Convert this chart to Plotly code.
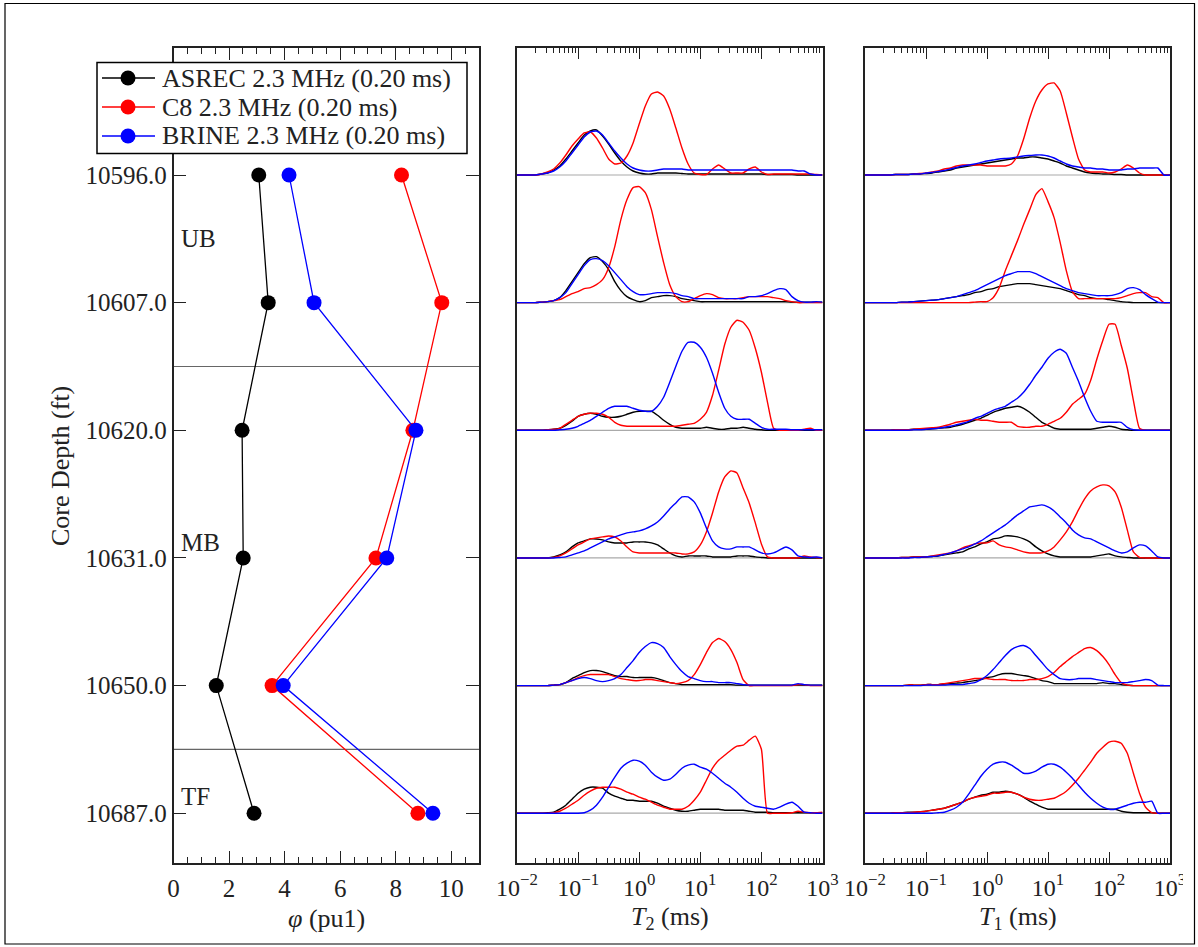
import plotly.graph_objects as go

W, H = 1198, 947
FONT = "Liberation Serif"
INK = "#222222"

# ---------------- data ----------------
DEPTHS = [10596.0, 10607.0, 10620.0, 10631.0, 10650.0, 10687.0]
DEPTH_LABELS = [f"{d:.1f}" for d in DEPTHS]
SERIES_NAMES = ["ASREC 2.3 MHz (0.20 ms)", "C8 2.3 MHz (0.20 ms)", "BRINE 2.3 MHz (0.20 ms)"]
SERIES_COLORS = ["#000000", "#ff0000", "#0000ff"]

PHI_ASREC = [3.07, 3.41, 2.47, 2.51, 1.54, 2.90]
PHI_C8 = [8.21, 9.66, 8.62, 7.29, 3.55, 8.80]
PHI_BRINE = [4.16, 5.06, 8.73, 7.68, 3.95, 9.34]

ZONE_NAMES = ["UB", "MB", "TF"]
ZONE_BOUNDARIES = [1.5, 4.5]          # between depth rows

PHI_TICKS = [0, 2, 4, 6, 8, 10]
LOG_TICK_EXP = [-2, -1, 0, 1, 2, 3]

# relaxation-time sampling grid, log10(ms)
LOG_T = [-2.0, -1.9, -1.8, -1.7, -1.6, -1.5, -1.4, -1.3, -1.2, -1.1,
         -1.0, -0.9, -0.8, -0.7, -0.6, -0.5, -0.4, -0.3, -0.2, -0.1,
         0.0, 0.1, 0.2, 0.3, 0.4, 0.5, 0.6, 0.7, 0.8, 0.9,
         1.0, 1.1, 1.2, 1.3, 1.4, 1.5, 1.6, 1.7, 1.8, 1.9,
         2.0, 2.1, 2.2, 2.3, 2.4, 2.5, 2.6, 2.7, 2.8, 2.9,
         3.0]

# amplitudes (a.u.), one row per depth, sampled on LOG_T
T2_ASREC = [
    [0, 0, 0, 0, 1, 2, 5, 9, 16, 24, 32, 40, 44, 45, 39, 31, 22, 14, 8, 4,
     2, 1, 1, 2, 2, 2, 2, 1.5, 1, 1, 1, 1, 1, 1, 1, 1, 1, 1, 1, 1,
     1, 0.5, 0.5, 0.5, 0.5, 0.5, 0, 0, 0, 0, 0],
    [0, 0, 0, 0, 0.5, 1, 2, 5, 12, 21, 30, 39, 45, 46, 41, 33, 21, 12, 6, 3,
     1, 2, 5, 6, 7, 7, 6, 4, 3, 2, 1, 1, 1, 1, 1, 1, 1, 1, 1, 1,
     1, 1, 1, 1, 1, 0.5, 0.5, 0.5, 0.5, 0.5, 0.5],
    [0, 0, 0, 0, 0, 0.5, 1, 2, 5, 9, 14, 16, 17, 16, 14, 13, 13, 14, 16, 18,
     19, 19, 19, 15, 10, 6, 3, 2, 2, 2, 2, 3, 2, 1, 1, 2, 2, 3, 2, 1,
     0.5, 0, 0, 0, 0, 0, 0, 0, 0, 0, 0],
    [0, 0, 0, 0, 0, 0, 1, 3, 6, 11, 15, 17, 19, 19, 18, 16, 15, 15, 15, 16,
     16, 16, 15, 13, 9, 5, 2, 1, 2, 2, 2, 2, 1, 1, 1, 1, 2, 2, 2, 1,
     0.5, 0, 0, 0, 0, 0, 0, 0, 0, 0, 0],
    [0, 0, 0, 0, 0, 0, 0.5, 1, 3, 7, 10, 13, 15, 15, 14, 12, 10, 9, 9, 8,
     8, 8, 8, 7, 5, 3, 2, 1, 1, 1, 1, 1, 1, 1, 1, 1, 0.5, 0.5, 0.5, 0.5,
     0.5, 0.5, 0.5, 0.5, 0.5, 0.5, 0.5, 0.5, 0.5, 0.5, 0.5],
    [0, 0, 0, 0, 0, 0.5, 1, 4, 8, 14, 20, 24, 26, 26, 25, 20, 17, 15, 13, 13,
     12, 12, 12, 10, 7, 5, 3, 2, 2, 3, 4, 4, 4, 4, 3, 3, 3, 3, 2, 1,
     1, 1, 0.5, 0.5, 0.5, 0.5, 0.5, 0.5, 0.5, 0.5, 0.5],
]
T2_C8 = [
    [0, 0, 0, 0, 1, 3, 6, 12, 20, 29, 36, 42, 43, 37, 27, 16, 11, 12, 19, 32,
     51, 69, 81, 83, 79, 66, 47, 27, 11, 2, 0.5, 0.5, 6, 10, 6, 2, 2, 2, 6, 8,
     3, 0.5, 1, 1, 1, 1, 1, 1, 1, 0.5, 0],
    [0, 0, 0, 0, 0.5, 1, 2, 3, 6, 9, 11, 14, 15, 18, 23, 35, 56, 83, 103, 115,
     116, 110, 93, 66, 40, 18, 6, 1, 1, 4, 7, 9, 8, 5, 4, 4, 4, 5, 6, 6,
     6, 6, 5, 4, 2, 1, 0, 0, 0, 0, 0],
    [0, 0, 0, 0, 0, 0.5, 1, 2, 6, 10, 14, 16, 17, 17, 16, 13, 8, 5, 4, 4,
     4, 4, 4, 4, 4, 4, 4, 5, 6, 7, 11, 18, 35, 60, 86, 103, 110, 108, 100, 82,
     58, 28, 2, 0, 0, 0, 0, 1, 2, 0, 0],
    [0, 0, 0, 0, 0, 0, 0.5, 2, 5, 9, 13, 16, 19, 20, 21, 22, 21, 17, 11, 6,
     5, 5, 5, 5, 5, 5, 5, 4, 4, 6, 13, 26, 45, 66, 81, 87, 85, 70, 55, 35,
     14, 1, 0, 0, 0, 0, 0, 2, 1, 0.5, 0],
    [0, 0, 0, 0, 0, 0, 0.5, 1, 3, 5, 8, 10, 11, 11, 11, 11, 9, 7, 6, 5,
     5, 6, 6, 5, 4, 3, 2, 3, 5, 11, 21, 33, 43, 47, 44, 36, 23, 6, 0, 0,
     0, 0, 0, 0, 0, 0, 1, 1, 0, 0, 0],
    [0, 0, 0, 0, 0, 0, 0.5, 2, 5, 9, 13, 18, 22, 25, 26, 26, 26, 24, 21, 19,
     16, 14, 11, 8, 6, 4, 4, 4, 7, 13, 21, 33, 45, 53, 58, 63, 67, 68, 73, 77,
     64, 0, 0, 0, 0, 0.5, 2, 1, 0.5, 0.5, 1],
]
T2_BRINE = [
    [0, 0, 0, 0, 1, 2, 4, 8, 14, 22, 30, 38, 43, 44, 40, 32, 24, 17, 11, 7,
     5, 4, 4, 5, 6, 6, 6, 6, 5, 5, 5, 5, 5, 5, 5, 5, 5, 5, 5, 5,
     5, 5, 5, 5, 5, 5, 4, 4, 1, 0, 0],
    [0, 0, 0, 0, 0.5, 1, 2, 5, 10, 19, 28, 37, 43, 44, 42, 37, 30, 23, 16, 11,
     8, 8, 9, 10, 10, 10, 9, 7, 6, 4, 4, 4, 4, 4, 4, 4, 4, 4, 6, 6,
     7, 9, 12, 14, 13, 6, 2, 0.5, 0.5, 1, 0.5],
    [0, 0, 0, 0, 0, 0, 0, 0.5, 1, 2, 4, 7, 10, 14, 18, 22, 24, 24, 24, 22,
     20, 19, 19, 24, 33, 48, 64, 79, 88, 88, 83, 73, 57, 38, 22, 14, 11, 11, 11, 7,
     3, 1, 1, 1, 1, 0.5, 0.5, 0.5, 0.5, 0.5, 0.5],
    [0, 0, 0, 0, 0, 0, 0, 0.5, 1, 3, 5, 7, 10, 13, 16, 19, 21, 23, 25, 26,
     27, 29, 32, 36, 42, 49, 55, 61, 61, 56, 45, 30, 17, 11, 9, 9, 11, 11, 11, 8,
     5, 4, 5, 8, 11, 8, 2, 1, 0.5, 1, 0],
    [0, 0, 0, 0, 0, 0, 0.5, 1, 3, 5, 7, 8, 7, 5, 4, 5, 7, 11, 18, 25,
     33, 39, 43, 42, 38, 29, 21, 14, 9, 7, 5, 4, 4, 3, 3, 3, 2, 1, 0.5, 0.5,
     0.5, 0.5, 0.5, 0.5, 0.5, 0.5, 2, 1, 0.5, 0.5, 0.5],
    [0, 0, 0, 0, 0, 0, 0, 0, 0, 0, 0, 0.5, 3, 8, 16, 26, 36, 45, 50, 53,
     52, 48, 41, 36, 33, 34, 39, 45, 48, 49, 46, 44, 40, 35, 30, 26, 21, 15, 10, 7,
     6, 5, 4, 6, 9, 11, 7, 1, 0.5, 0, 0],
]
T1_ASREC = [
    [0, 0, 0, 0, 0, 0.5, 0.5, 0.5, 1, 1, 1.5, 2, 3, 4, 5, 7, 8, 9, 10, 11,
     12, 13, 14, 15, 16, 17, 17, 18, 18, 17, 16, 14, 12, 9, 7, 5, 3, 2, 1.5, 1,
     1, 0.5, 0.5, 0, 0, 0, 0, 0, 0, 0, 0],
    [0, 0, 0, 0, 0, 0, 0.5, 0.5, 1, 1.5, 2, 2.5, 3, 4, 5, 6, 7, 8, 10, 11,
     13, 14, 16, 17, 18, 19, 19, 19, 18, 17, 16, 15, 14, 12, 10, 8, 7, 5, 4, 4,
     3, 2, 1, 0.5, 0, 0, 0, 0, 0, 0, 0],
    [0, 0, 0, 0, 0, 0.5, 0.5, 0.5, 1, 1, 1, 1.5, 2, 2.5, 3, 4.5, 6, 8, 10, 12,
     15, 18, 20, 22, 23, 24, 22, 18, 13, 8, 5, 2, 1, 1, 1, 1, 1, 1, 2, 3,
     4, 3, 1, 0.5, 0, 0, 0, 0, 0, 0, 0],
    [0, 0, 0, 0, 0, 0, 0.5, 0.5, 1, 1, 1, 1.5, 2, 3, 4, 5, 6, 9, 11, 14,
     16, 19, 20, 22, 22, 21, 19, 16, 11, 7, 4, 2, 1, 1, 1, 1, 1, 1, 2, 3,
     4, 2, 1, 0.5, 0, 0, 0, 0, 0, 0, 0],
    [0, 0, 0, 0, 0, 0, 0, 0.5, 0.5, 0.5, 1, 1, 1, 1.5, 2, 2.5, 3, 4, 5, 6,
     8, 9, 11, 12, 12, 11, 10, 9, 7, 5, 4, 2, 2, 2, 2, 2, 2, 2, 2, 3,
     2, 2, 1, 0.5, 0, 0, 0, 0, 0, 0, 0],
    [0, 0, 0, 0, 0, 0.5, 0.5, 1, 1, 1.5, 2, 3, 4, 5, 7, 9, 11, 14, 16, 18,
     19, 21, 21, 22, 21, 19, 16, 12, 9, 6, 4, 4, 4, 4, 4, 4, 4, 4, 4, 4,
     4, 4, 2, 1, 0.5, 0.5, 0.5, 0.5, 0, 0, 0],
]
T1_C8 = [
    [0, 0, 0, 0, 0, 0.5, 0.5, 0.5, 1, 1.5, 2, 3, 4, 6, 7, 9, 10, 10, 10, 10,
     9, 9, 9, 9, 11, 19, 36, 57, 74, 85, 91, 92, 84, 62, 38, 16, 5, 3, 3, 3,
     2, 3, 6, 10, 7, 2, 0, 0, 0, 0, 0],
    [0, 0, 0, 0, 0, 0, 0, 0, 0, 0, 0, 0, 0, 0, 0, 0, 0, 0, 0.5, 1,
     1, 5, 15, 32, 47, 62, 78, 93, 108, 114, 101, 85, 60, 32, 11, 4, 4, 4, 4, 4,
     4, 4, 5, 7, 9, 10, 10, 6, 5, 0, 0],
    [0, 0, 0, 0, 0, 0.5, 0.5, 0.5, 1, 1.5, 2, 2.5, 3, 4.5, 6, 8, 9, 10, 11, 10,
     10, 9, 8, 8, 8, 4, 3, 3, 4, 4, 6, 9, 12, 18, 26, 31, 36, 50, 71, 90,
     106, 106, 85, 62, 30, 2, 0, 0, 0, 0, 0],
    [0, 0, 0, 0, 0, 0, 0.5, 0.5, 1, 1, 1, 2, 3, 4, 5, 7, 10, 12, 14, 15,
     15, 17, 13, 11, 10, 8, 6, 5, 5, 5, 7, 11, 18, 26, 36, 48, 59, 67, 71, 73,
     72, 66, 51, 28, 6, 0.5, 0, 0, 0, 0, 0],
    [0, 0, 0, 0, 0, 0, 0, 0.5, 0.5, 0.5, 1, 1, 1, 2, 3, 4, 5, 6, 7, 7,
     7, 6, 6, 6, 5, 5, 5, 6, 6, 7, 9, 13, 19, 24, 29, 33, 37, 38, 35, 29,
     21, 11, 3, 0.5, 0, 0, 0, 0, 0, 0, 0],
    [0, 0, 0, 0, 0, 0.5, 0.5, 0.5, 1, 1.5, 2, 3, 4, 5, 7, 9, 11, 14, 16, 17,
     18, 20, 20, 21, 21, 19, 16, 14, 13, 13, 14, 15, 18, 22, 28, 35, 43, 51, 60, 66,
     71, 72, 70, 60, 40, 20, 6, 0.5, 0, 0, 0],
]
T1_BRINE = [
    [0, 0, 0, 0, 0, 0.5, 0.5, 0.5, 1, 1, 2, 2.5, 3.5, 4.5, 6, 7.5, 9, 10, 11, 12.5,
     14, 15, 16, 16.5, 17, 18, 19, 19.5, 20, 20, 19, 17, 14, 11, 9, 8, 7, 7, 6, 6,
     5, 5, 5, 6, 6, 7, 7, 7, 7, 0, 0],
    [0, 0, 0, 0, 0, 0, 0.5, 0.5, 1, 1.5, 2, 2.5, 3, 4, 5, 6, 8, 10, 12, 15,
     18, 21, 24, 27, 29, 31, 31, 31, 29, 26, 23, 20, 17, 14, 12, 10, 9, 8, 7, 7,
     7, 8, 10, 14, 15, 13, 8, 4, 0.5, 0, 0],
    [0, 0, 0, 0, 0, 0, 0, 0, 0.5, 0.5, 1, 1.5, 2, 3, 4, 5.5, 7, 9, 12, 14,
     17, 20, 22, 24, 28, 32, 38, 46, 55, 63, 72, 78, 81, 77, 63, 49, 33, 19, 9, 8,
     8, 8, 8, 3, 0.5, 0, 0, 0, 0, 0, 0],
    [0, 0, 0, 0, 0, 0, 0, 0, 0.5, 0.5, 1, 1.5, 2, 3.5, 5, 7, 9, 11, 14, 17,
     21, 25, 29, 33, 38, 43, 47, 51, 52, 53, 51, 47, 41, 35, 28, 23, 20, 19, 16, 13,
     10, 7, 5, 6, 10, 13, 12, 7, 1, 0, 0],
    [0, 0, 0, 0, 0, 0, 0, 0, 0, 0, 0.5, 0.5, 0.5, 0.5, 1, 1, 1, 2, 3, 6,
     10, 16, 23, 30, 36, 39, 40, 37, 30, 23, 16, 11, 7, 6, 6, 7, 7, 7, 6, 5,
     4, 3, 3, 3, 4, 5, 6, 5, 0.5, 0, 0],
    [0, 0, 0, 0, 0, 0, 0, 0, 0, 0, 0, 0, 0.5, 1, 3, 6, 11, 19, 28, 37,
     44, 49, 51, 51, 48, 44, 40, 40, 42, 46, 49, 49, 46, 41, 35, 28, 21, 15, 10, 6,
     4, 4, 6, 8, 10, 11, 11, 12, 0, 0, 0],
]

for block in (T2_ASREC, T2_C8, T2_BRINE, T1_ASREC, T1_C8, T1_BRINE):
    assert len(block) == len(DEPTHS)
    for row in block:
        assert len(row) == len(LOG_T), len(row)

# ---------------- styling constants ----------------
AMP_TO_ROW = 1 / 127.6          # a.u. -> depth-row units
Y_RANGE = [5.39, -0.995]
TICK_SIZE = 25
LOG_TICK_SIZE = 24
TITLE_SIZE = 26
LEGEND_SIZE = 26
MARKER_PX = 15


def fx(p):
    return p / W


def fy(p):
    return 1 - p / H


fig = go.Figure()

T_VALUES = [10 ** v for v in LOG_T]
T2_SETS = [T2_ASREC, T2_C8, T2_BRINE]
T1_SETS = [T1_ASREC, T1_C8, T1_BRINE]
PHI_SETS = [PHI_ASREC, PHI_C8, PHI_BRINE]
ROWS = list(range(len(DEPTHS)))

# left panel: porosity
for name, phi, col in zip(SERIES_NAMES, PHI_SETS, SERIES_COLORS):
    fig.add_trace(go.Scatter(
        x=phi, y=ROWS, mode="lines+markers", name=name,
        line=dict(color=col, width=1.3),
        marker=dict(color=col, size=MARKER_PX, line=dict(width=0)),
        xaxis="x", yaxis="y", showlegend=False))

# distributions
for sets, xa, ya in ((T2_SETS, "x2", "y2"), (T1_SETS, "x3", "y3")):
    for r in ROWS:
        for s, col in zip(sets, SERIES_COLORS):
            amps = s[r]
            fig.add_trace(go.Scatter(
                x=T_VALUES, y=[r - a * AMP_TO_ROW for a in amps],
                mode="lines", line=dict(color=col, width=1.4, shape="spline", smoothing=0.5),
                xaxis=xa, yaxis=ya, showlegend=False, hoverinfo="skip"))

axis_common = dict(showline=True, linecolor=INK, linewidth=1.5, mirror="allticks",
                   showgrid=False, zeroline=False, ticks="inside", tickcolor=INK,
                   tickwidth=1.2)

minor_log = [m * 10.0 ** e for e in LOG_TICK_EXP[:-1] for m in range(2, 10)]
log_ticktext = [f"10<sup>{e if e >= 0 else '−' + str(-e)}</sup>" for e in LOG_TICK_EXP]
log_tickvals = [10.0 ** e for e in LOG_TICK_EXP]

log_axis = dict(type="log", range=[-2, 3], tickmode="array", tickvals=log_tickvals,
                ticktext=log_ticktext, ticklen=11, ticklabelstandoff=2,
                tickfont=dict(family=FONT, size=LOG_TICK_SIZE, color=INK),
                minor=dict(tickmode="array", tickvals=minor_log, ticks="inside",
                           ticklen=5, tickcolor=INK, tickwidth=1.0),
                **axis_common)
frame_y = dict(domain=[fy(863), fy(48)], range=Y_RANGE, showline=True, linecolor=INK,
               linewidth=1.5, mirror=True, showgrid=False, zeroline=False, ticks="",
               showticklabels=False)

fig.update_layout(
    width=W, height=H, margin=dict(l=0, r=0, t=0, b=0, autoexpand=False),
    paper_bgcolor="white", plot_bgcolor="white",
    font=dict(family=FONT, size=TICK_SIZE, color=INK),
    xaxis=dict(domain=[fx(173.5), fx(479)], range=[0, 11], tickmode="array",
               tickvals=PHI_TICKS, ticklen=12, ticklabelstandoff=2,
               tickfont=dict(family=FONT, size=TICK_SIZE, color=INK),
               minor=dict(dtick=0.5, ticks="inside", ticklen=6, tickcolor=INK, tickwidth=1.2),
               anchor="y", **axis_common),
    yaxis=dict(domain=[fy(863), fy(48)], range=Y_RANGE, tickmode="array",
               tickvals=ROWS, ticktext=DEPTH_LABELS, ticklen=13, anchor="x",
               tickfont=dict(family=FONT, size=TICK_SIZE, color=INK),
               **axis_common),
    xaxis2=dict(domain=[fx(517), fx(822.5)], anchor="y2", **log_axis),
    yaxis2=dict(anchor="x2", **frame_y),
    xaxis3=dict(domain=[fx(865), fx(1170)], anchor="y3", **log_axis),
    yaxis3=dict(anchor="x3", **frame_y),
    showlegend=False,
)

shapes = []
# baselines in distribution panels
for xa, ya in (("x2", "y2"), ("x3", "y3")):
    for r in ROWS:
        shapes.append(dict(type="line", xref=f"{xa} domain", yref=ya, x0=0, x1=1,
                           y0=r, y1=r, line=dict(color="#aaaaaa", width=1.2), layer="below"))
# zone boundaries in porosity panel
for b in ZONE_BOUNDARIES:
    shapes.append(dict(type="line", xref="x domain", yref="y", x0=0, x1=1, y0=b, y1=b,
                       line=dict(color="#666666", width=1.1), layer="below"))
# clip of the overflowing last tick label and outer frame
shapes.append(dict(type="rect", xref="paper", yref="paper", x0=fx(1183), x1=fx(1198),
                   y0=fy(905), y1=fy(866), fillcolor="white", line=dict(width=0), layer="above"))
shapes.append(dict(type="rect", xref="paper", yref="paper", x0=fx(5), x1=fx(1194.5),
                   y0=fy(944), y1=fy(3.5), line=dict(color="#000000", width=1.2),
                   fillcolor="rgba(0,0,0,0)", layer="above"))

# legend box (drawn by hand so that row spacing matches)
LEG_BOX = (97, 62.5, 467, 153.5)
LEG_ROWS_Y = [78, 107, 136]
LEG_LINE_X = (102, 155)
LEG_MARK_X = 128
LEG_TEXT_X = 160
shapes.append(dict(type="rect", xref="paper", yref="paper",
                   x0=fx(LEG_BOX[0]), x1=fx(LEG_BOX[2]), y0=fy(LEG_BOX[3]), y1=fy(LEG_BOX[1]),
                   fillcolor="white", line=dict(color="#000000", width=1.5), layer="above"))
r_m = MARKER_PX / 2
for col, yy in zip(SERIES_COLORS, LEG_ROWS_Y):
    shapes.append(dict(type="line", xref="paper", yref="paper",
                       x0=fx(LEG_LINE_X[0]), x1=fx(LEG_LINE_X[1]), y0=fy(yy), y1=fy(yy),
                       line=dict(color=col, width=1.3), layer="above"))
    shapes.append(dict(type="circle", xref="paper", yref="paper",
                       x0=fx(LEG_MARK_X - r_m), x1=fx(LEG_MARK_X + r_m),
                       y0=fy(yy + r_m), y1=fy(yy - r_m),
                       fillcolor=col, line=dict(width=0), layer="above"))
fig.update_layout(shapes=shapes)

ann = []
for name, yy in zip(SERIES_NAMES, LEG_ROWS_Y):
    ann.append(dict(x=fx(LEG_TEXT_X), y=fy(yy), xref="paper", yref="paper", text=name,
                    showarrow=False, xanchor="left", yanchor="middle",
                    font=dict(family=FONT, size=LEGEND_SIZE, color=INK)))
for name, ypos in zip(ZONE_NAMES, [0.5, 2.88, 4.87]):
    ann.append(dict(x=0.2, y=ypos, xref="x", yref="y", text=name, showarrow=False,
                    xanchor="left", yanchor="middle",
                    font=dict(family=FONT, size=TICK_SIZE, color=INK)))
title_font = dict(family=FONT, size=TITLE_SIZE, color=INK)
ann.append(dict(x=fx(60), y=fy(466), xref="paper", yref="paper", text="Core Depth (ft)",
                textangle=-90, showarrow=False, xanchor="center", yanchor="middle",
                font=title_font))
for txt, xc in (("<i>φ</i> (pu1)", 326), ("<i>T</i><sub>2</sub> (ms)", 669.5),
                ("<i>T</i><sub>1</sub> (ms)", 1017.5)):
    ann.append(dict(x=fx(xc), y=fy(918), xref="paper", yref="paper", text=txt,
                    showarrow=False, xanchor="center", yanchor="middle", font=title_font))
fig.update_layout(annotations=ann)

fig.write_html(
    "out.html",
    config={"responsive": False, "displayModeBar": False},
    post_script="document.body.style.margin='0px';document.body.style.padding='0px';"
                "document.documentElement.style.overflow='hidden';",
)
